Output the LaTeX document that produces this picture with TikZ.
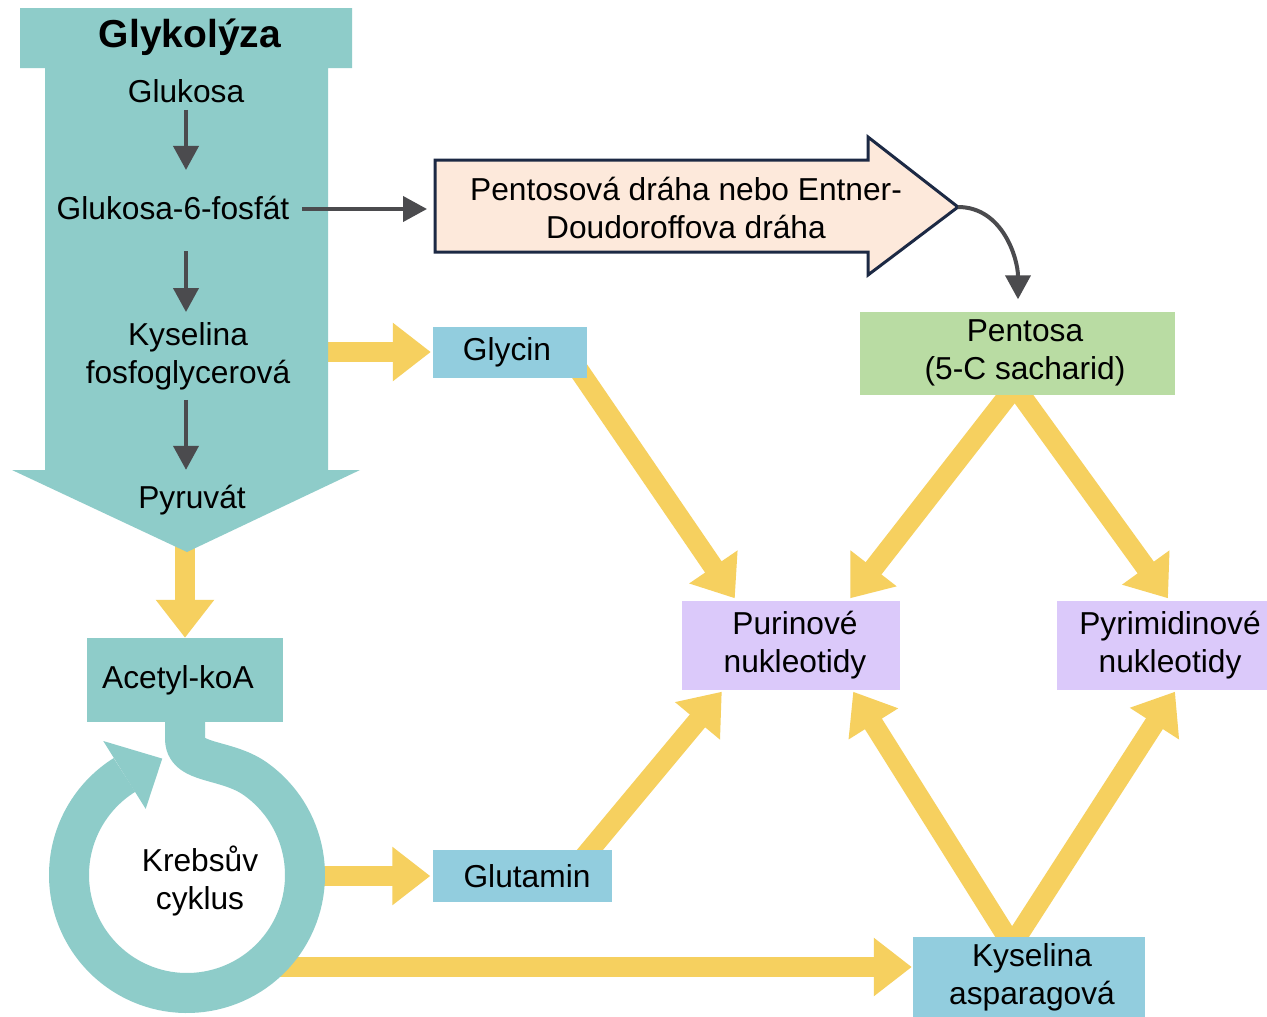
\documentclass[tikz,border=0pt]{standalone}
\usepackage{fontspec}
\setmainfont{Liberation Sans}
\usetikzlibrary{arrows.meta,calc,backgrounds}
\definecolor{glyc}{RGB}{142,204,201}
\definecolor{ablue}{RGB}{146,205,222}
\definecolor{pgreen}{RGB}{185,220,163}
\definecolor{lav}{RGB}{219,201,250}
\definecolor{peach}{RGB}{253,233,219}
\definecolor{navy}{RGB}{28,41,68}
\definecolor{yel}{RGB}{246,208,95}
\definecolor{dgray}{RGB}{75,75,78}
\begin{document}
\begin{tikzpicture}[x=1pt,y=-1pt,
  lbl/.style={font=\fontsize{31.7}{38}\selectfont, align=center, inner sep=0pt, text=black},
  bx/.style={lbl, rectangle, draw=none},
  darr/.style={draw=dgray, line width=4pt, -{Triangle[length=24pt,width=25pt]}},
  yarr/.style={draw=yel, line width=20pt, -{Triangle[length=38pt,width=56pt]}},
  ring/.style={draw=glyc, line width=40pt, line join=round}
]
\useasboundingbox (0,0) rectangle (1267,1017);

% Glycolysis big arrow shape
\fill[glyc] (20,8) -- (352,8) -- (352,68) -- (328,68) -- (328,470) -- (360,470)
  -- (187,552) -- (12,470) -- (45,470) -- (45,68) -- (20,68) -- cycle;

\node[lbl, font=\fontsize{39}{46}\selectfont\bfseries] (title) at (190,37) {Glykolýza};
\node[lbl] (glukosa) at (186,91) {Glukosa};
\node[lbl] (g6p) at (173,208) {Glukosa-6-fosfát};
\node[lbl] (kys) at (188,356) {Kyselina\\fosfoglycerová};
\node[lbl] (pyr) at (192,500) {Pyruvát};

\draw[darr] ($(glukosa.south)+(0,7)$) -- ($(glukosa.south |- g6p.north)+(0,-26)$);
\draw[darr] ($(glukosa.south |- g6p.south)+(0,31)$) -- ($(glukosa.south |- kys.north)+(0,-10)$);
\draw[darr] ($(glukosa.south |- kys.south)+(0,10)$) -- ($(glukosa.south |- pyr.north)+(0,-15)$);

% Pentose pathway arrow
\draw[fill=peach, draw=navy, line width=3pt, line join=miter] (435,160) -- (868,160) -- (868,137)
  -- (958,207) -- (868,275) -- (868,252) -- (435,252) -- cycle;
\coordinate (ppl) at (435,209);
\coordinate (ppt) at (958,207);
\node[lbl] (pp) at (686,208) {Pentosová dráha nebo Entner-\\Doudoroffova dráha};
\draw[darr] ($(g6p.east)+(13,1)$) -- ($(ppl)+(-8,0)$);

% Boxes
\node[bx, fill=ablue, minimum width=154pt, minimum height=51pt] (glycin) at (510,352) {\hspace*{-6pt}Glycin};
\node[bx, fill=pgreen, minimum width=315pt, minimum height=83pt] (pentosa) at (1017,353) {\hspace*{16pt}Pentosa\\\hspace*{16pt}(5-C sacharid)};
\node[bx, fill=lav, minimum width=218pt, minimum height=89pt] (purin) at (791,645) {\hspace*{8pt}Purinové\\\hspace*{8pt}nukleotidy};
\node[bx, fill=lav, minimum width=210pt, minimum height=89pt] (pyrim) at (1162,645) {\hspace*{16pt}Pyrimidinové\\\hspace*{16pt}nukleotidy};
\node[bx, fill=glyc, minimum width=196pt, minimum height=84pt] (acetyl) at (185,680) {Acetyl-koA\hspace*{14pt}};
\node[bx, fill=ablue, minimum width=179pt, minimum height=52pt] (glutamin) at (522,876) {\hspace*{10pt}Glutamin};
\node[bx, fill=ablue, minimum width=232pt, minimum height=80pt] (asp) at (1029,977) {\hspace*{6pt}Kyselina\\\hspace*{6pt}asparagová};

\draw[darr] (ppt) .. controls +(45,0) and +(0,-40) .. ($(pentosa.north)+(1,-12)$);

% Krebs cycle ring
\coordinate (kc) at (187,875);
\draw[ring] ($(acetyl.south)+(0,-5)$) -- ++(0,22)
  .. controls +(0,25) and ($(kc)+(-55:118)+(-29,-20)$) .. ($(kc)+(-55:118)$)
  arc[start angle=-55, end angle=238, radius=118];
\fill[glyc] ($(kc)+(238:78)$) -- ($(kc)+(238:158)$) -- ($(kc)+(258:119)$) -- cycle;
\node[lbl] (krebs) at (200,881) {Krebsův\\cyklus};

% Yellow arrows
\begin{pgfonlayer}{background}
\fill[white] (0,0) rectangle (1267,1017);
\draw[yarr] ($(glycin.west)+(-112,0)$) -- ($(glycin.west)+(-2,0)$);
\draw[yarr] (pyr.south -| acetyl.north) -- (acetyl.north);
\draw[yarr] ($(glycin.south east)+(-10,-10)$) -- ($(purin.north west)+(53,-2)$);
\draw[yarr] ($(pentosa.south)+(-2,-8)$) -- ($(purin.north east)+(-50,-2)$);
\draw[yarr] ($(pentosa.south)+(-2,-8)$) -- ($(pyrim.north)+(6,-2)$);
\draw[yarr] ($(glutamin.north east)+(-30,10)$) -- ($(purin.south west)+(40,2)$);
\draw[yarr] ($(asp.north)+(-17,8)$) -- ($(purin.south east)+(-47,2)$);
\draw[yarr] ($(asp.north)+(-17,8)$) -- ($(pyrim.south)+(13,2)$);
\draw[yarr] ($(glutamin.west)+(-120,0)$) -- ($(glutamin.west)+(-2,0)$);
\draw[yarr] ($(asp.west)+(-640,-10)$) -- ($(asp.west)+(-1,-10)$);
\end{pgfonlayer}
\end{tikzpicture}
\end{document}
